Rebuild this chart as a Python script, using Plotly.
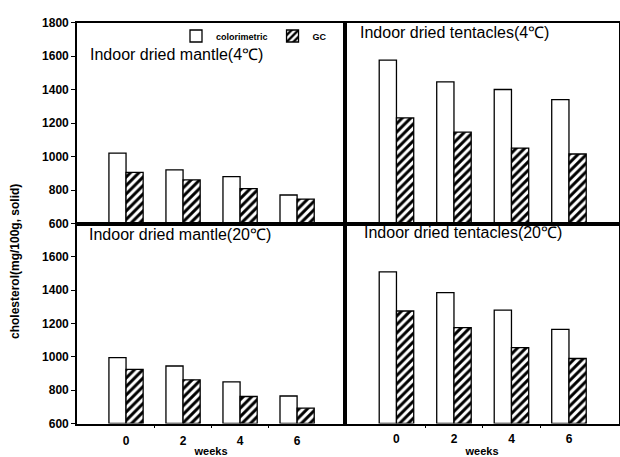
import plotly.graph_objects as go

weeks = [0, 2, 4, 6]
week_labels = ["0", "2", "4", "6"]

mantle_4_color = [1020, 920, 880, 770]
mantle_4_gc = [905, 860, 808, 746]
tent_4_color = [1575, 1445, 1400, 1340]
tent_4_gc = [1230, 1145, 1050, 1015]
mantle_20_color = [995, 945, 850, 765]
mantle_20_gc = [925, 862, 762, 692]
tent_20_color = [1510, 1385, 1280, 1165]
tent_20_gc = [1275, 1175, 1055, 990]

panel_titles = ["Indoor dried mantle(4℃)", "Indoor dried tentacles(4℃)",
                "Indoor dried mantle(20℃)", "Indoor dried tentacles(20℃)"]
y_ticks_top = [600, 800, 1000, 1200, 1400, 1600, 1800]
y_ticks_bottom = [600, 800, 1000, 1200, 1400, 1600]

FONT = "Liberation Sans, Arial, sans-serif"
W, H = 620, 457

def px_x(p):
    return p / W

def px_y(p):
    return 1 - p / H

fig = go.Figure()

panels = [
    (mantle_4_color, mantle_4_gc, "x", "y"),
    (tent_4_color, tent_4_gc, "x2", "y2"),
    (mantle_20_color, mantle_20_gc, "x3", "y3"),
    (tent_20_color, tent_20_gc, "x4", "y4"),
]

for i, (col, gc, xa, ya) in enumerate(panels):
    fig.add_trace(go.Bar(
        x=weeks, y=[v - 600 for v in col], base=600, width=0.6, offset=-0.6,
        name="colorimetric", showlegend=(i == 0), legendrank=1,
        marker=dict(color="white", line=dict(color="black", width=1.3)),
        xaxis=xa, yaxis=ya, hoverinfo="skip"))
    fig.add_trace(go.Bar(
        x=weeks, y=[v - 600 for v in gc], base=600, width=0.6, offset=0,
        name="GC", showlegend=(i == 0), legendrank=2,
        marker=dict(color="white", line=dict(color="black", width=1.3),
                    pattern=dict(shape="/", fgcolor="black", bgcolor="white",
                                 fgopacity=1, size=6, solidity=0.5)),
        xaxis=xa, yaxis=ya, hoverinfo="skip"))

xl = [px_x(77), px_x(345)]
xr = [px_x(345), px_x(619)]
yb = [px_y(423.5), px_y(223.5)]
yt = [px_y(223.5), px_y(22.5)]

axis_common = dict(showline=True, linecolor="black", linewidth=1.6, mirror=True,
                   showgrid=False, zeroline=False, automargin=False)
tickfont = dict(family=FONT, size=12, color="black", weight="bold")
title_font = dict(family=FONT, size=11, color="black", weight="bold")

fig.update_layout(
    width=W, height=H, margin=dict(l=0, r=0, t=0, b=0),
    paper_bgcolor="white", plot_bgcolor="white",
    barmode="overlay",
    font=dict(family=FONT, color="black"),
    xaxis=dict(domain=xl, range=[-1.72, 7.68], anchor="y", showticklabels=False,
               ticks="", **axis_common),
    xaxis2=dict(domain=xr, range=[-1.79, 7.74], anchor="y2", showticklabels=False,
                ticks="", **axis_common),
    xaxis3=dict(domain=xl, range=[-1.72, 7.68], anchor="y3", tickmode="array",
                tickvals=weeks, ticktext=week_labels, ticks="", tickfont=tickfont,
                ticklabelstandoff=5,
                minor=dict(tickmode="array", tickvals=[1, 3, 5], ticks="outside",
                           ticklen=3, tickcolor="black"),
                title=dict(text="weeks", font=title_font, standoff=10),
                **axis_common),
    xaxis4=dict(domain=xr, range=[-1.79, 7.74], anchor="y4", tickmode="array",
                tickvals=weeks, ticktext=week_labels, ticks="", tickfont=tickfont,
                ticklabelstandoff=3,
                minor=dict(tickmode="array", tickvals=[1, 3, 5], ticks="outside",
                           ticklen=3, tickcolor="black"),
                title=dict(text="weeks", font=title_font, standoff=6),
                **axis_common),
    yaxis=dict(domain=yt, range=[600, 1800], anchor="x", tickmode="array",
               tickvals=y_ticks_top, ticks="outside", ticklen=4, tickcolor="black",
               tickfont=tickfont, **axis_common),
    yaxis2=dict(domain=yt, range=[600, 1800], anchor="x2", showticklabels=False,
                ticks="", **axis_common),
    yaxis3=dict(domain=yb, range=[600, 1800], anchor="x3", tickmode="array",
                tickvals=y_ticks_bottom, ticks="outside", ticklen=4, tickcolor="black",
                tickfont=tickfont, **axis_common),
    yaxis4=dict(domain=yb, range=[600, 1800], anchor="x4", showticklabels=False,
                ticks="", **axis_common),
    legend=dict(orientation="h", x=px_x(176), y=px_y(36), xanchor="left",
                yanchor="middle", bgcolor="rgba(0,0,0,0)",
                font=dict(family=FONT, size=9, weight="bold"),
                itemwidth=30, tracegroupgap=0),
)

title_pos = [(88, 55), (358, 32), (87, 234), (362, 233)]
for t, (x, y) in zip(panel_titles, title_pos):
    fig.add_annotation(text=t, x=px_x(x), y=px_y(y), xref="paper", yref="paper",
                       xanchor="left", yanchor="middle", showarrow=False,
                       font=dict(family=FONT, size=16, color="black"))

fig.add_annotation(text="cholesterol(mg/100g, solid)", x=px_x(15), y=px_y(262),
                   xref="paper", yref="paper", textangle=-90, showarrow=False,
                   xanchor="center", yanchor="middle",
                   font=dict(family=FONT, size=12, color="black", weight="bold"))

fig.write_html("out.html")
